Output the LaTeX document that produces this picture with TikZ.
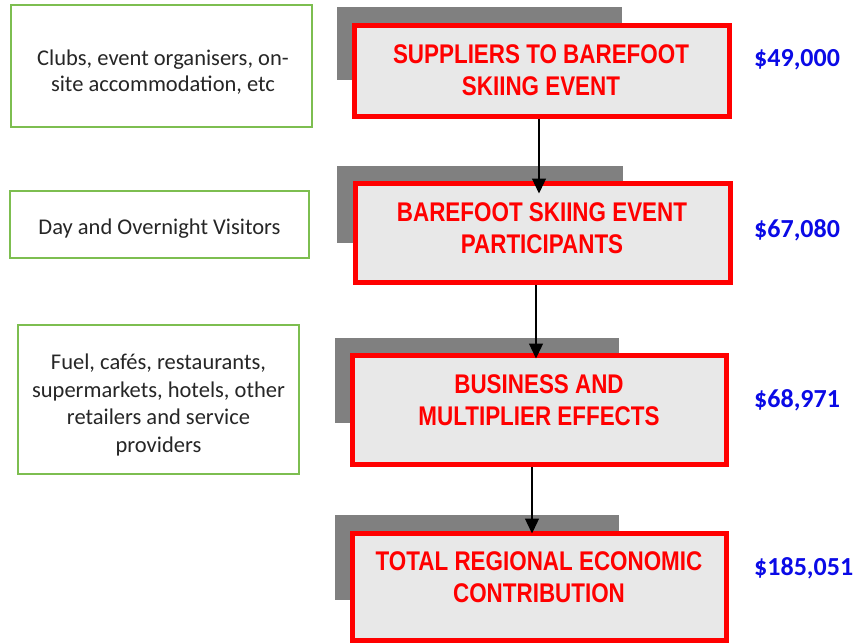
\documentclass[tikz,border=0pt]{standalone}
\usepackage{fontspec}
\setmainfont{Carlito}
\newfontfamily\redfont[FakeStretch=0.83]{Liberation Sans}
\usetikzlibrary{arrows.meta}
\definecolor{boxgreen}{RGB}{125,190,80}
\definecolor{boxred}{RGB}{255,0,0}
\definecolor{boxfill}{RGB}{232,232,232}
\definecolor{shadowgray}{RGB}{128,128,128}
\definecolor{valblue}{RGB}{10,10,230}
\tikzset{
  greenbox/.style={draw=boxgreen, line width=2pt, fill=white, inner sep=0pt},
  greentext/.style={inner sep=0pt, align=center, text=black!85, font=\fontsize{22.5}{26}\selectfont},
  shadowbox/.style={fill=shadowgray, draw=none, inner sep=0pt, outer sep=0pt, anchor=north west},
  redbox/.style={draw=boxred, line width=5pt, fill=boxfill, inner sep=0pt, outer sep=0pt},
  redtext/.style={inner sep=0pt, align=center, text=boxred, font=\redfont\bfseries\fontsize{27}{32}\selectfont},
  valtext/.style={inner sep=0pt, anchor=west, text=valblue, font=\bfseries\fontsize{26}{30}\selectfont},
  arr/.style={draw=black, line width=1.3pt, -{Triangle[length=15pt,width=14pt]}}
}
\begin{document}
\begin{tikzpicture}[x=1pt,y=-1pt]
\useasboundingbox (0,0) rectangle (861,643);
% left green boxes
\node[greenbox, minimum width=301pt, minimum height=122pt] (g1) at (161.5,66) {};
\node[greenbox, minimum width=299pt, minimum height=67pt] (g2) at (159.5,224.5) {};
\node[greenbox, minimum width=281pt, minimum height=149pt] (g3) at (158.5,399.5) {};
\node[greentext] (gt1) at (163,72) {Clubs, event organisers, on-\\site accommodation, etc};
\node[greentext] (gt2) at (159.5,228.5) {Day and Overnight Visitors};
\node[greentext, font=\fontsize{22.5}{27.5}\selectfont] (gt3) at (158.5,405) {Fuel, cafés, restaurants,\\supermarkets, hotels, other\\retailers and service\\providers};
% shadows
\node[shadowbox, minimum width=285pt, minimum height=73pt] (s1) at (337,7) {};
\node[shadowbox, minimum width=286pt, minimum height=77pt] (s2) at (337,166) {};
\node[shadowbox, minimum width=284pt, minimum height=85pt] (s3) at (335,338) {};
\node[shadowbox, minimum width=284pt, minimum height=85pt] (s4) at (335,515) {};
% red boxes
\node[redbox, minimum width=375pt, minimum height=91pt] (r1) at (542,71) {};
\node[redbox, minimum width=375pt, minimum height=99pt] (r2) at (543,233) {};
\node[redbox, minimum width=374pt, minimum height=109pt] (r3) at (539.5,410) {};
\node[redbox, minimum width=374pt, minimum height=107pt] (r4) at (539.5,587) {};
% red texts
\node[redtext] (t1) at (541,70) {SUPPLIERS TO BAREFOOT\\SKIING EVENT};
\node[redtext] (t2) at (542,228.5) {BAREFOOT SKIING EVENT\\PARTICIPANTS};
\node[redtext] (t3) at (539,400) {BUSINESS AND\\MULTIPLIER EFFECTS};
\node[redtext] (t4) at (539,577) {TOTAL REGIONAL ECONOMIC\\CONTRIBUTION};
% values
\node[valtext] (v1) at (754,60) {\$49,000};
\node[valtext] (v2) at (754,230) {\$67,080};
\node[valtext] (v3) at (754,400) {\$68,971};
\node[valtext] (v4) at (754,568) {\$185,051};
% arrows
\draw[arr, shorten <=2.5pt, shorten >=-10pt] ([xshift=-3pt]r1.south) -- ([xshift=-4pt]r2.north);
\draw[arr, shorten <=2.5pt, shorten >=-3pt] ([xshift=-7pt]r2.south) -- ([xshift=-3.5pt]r3.north);
\draw[arr, shorten <=2.5pt] ([xshift=-7.5pt]r3.south) -- ([xshift=-7.5pt]r4.north);
\end{tikzpicture}
\end{document}
